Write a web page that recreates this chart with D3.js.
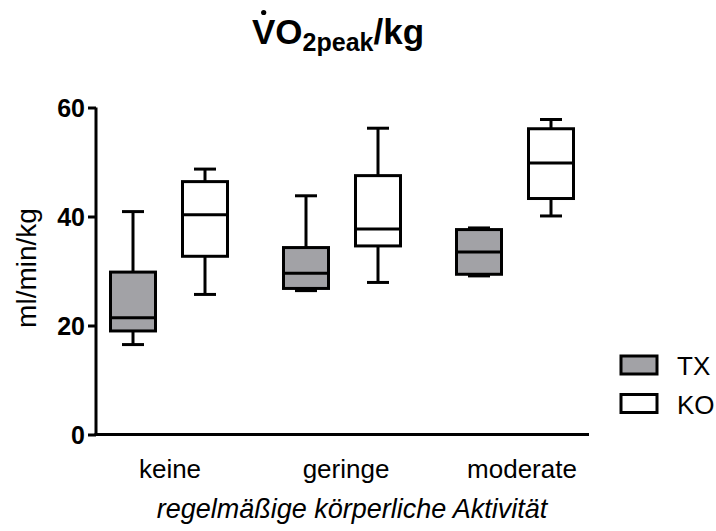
<!DOCTYPE html>
<html>
<head>
<meta charset="utf-8">
<script src="https://cdn.jsdelivr.net/npm/d3@7"></script>
<style>
  body { margin: 0; background: #fff; }
  svg text { font-family: "Liberation Sans", Arial, sans-serif; fill: #000; }
</style>
</head>
<body>
<div id="chart"></div>
<script>
// categories and series
var categories = ['keine', 'geringe', 'moderate']
var series = ['TX', 'KO']
var seriesFill = {TX: '#a2a2a6', KO: '#ffffff'}

// five number summaries: [min, q1, median, q3, max]
var txValues = [
    [16.5, 19.0, 21.4, 29.8, 40.9],
    [26.4, 26.8, 29.6, 34.3, 43.8],
    [29.1, 29.4, 33.5, 37.6, 37.9]
]
var koValues = [
    [25.7, 32.7, 40.3, 46.4, 48.7],
    [27.9, 34.6, 37.7, 47.5, 56.2],
    [40.1, 43.3, 49.8, 56.1, 57.8]
]
var yTicks = [0, 20, 40, 60]

var svgWidth = 716, svgHeight = 531
var boxWidth = 45, capWidth = 22, lineW = 3

var svg = d3.select('#chart').append('svg')
    .attr('width', svgWidth)
    .attr('height', svgHeight)

var y = d3.scaleLinear().domain([0, 60]).range([434.5, 107.5])
var xGroup = d3.scalePoint().domain(categories).range([169, 515])
var xInner = d3.scalePoint().domain(series).range([-36, 36])
var xLabel = d3.scalePoint().domain(categories).range([170, 522])

var rows = []
categories.forEach(function(c, i) {
    rows.push({cat: c, s: 'TX', v: txValues[i]})
    rows.push({cat: c, s: 'KO', v: koValues[i]})
})
function cx(d) { return xGroup(d.cat) + xInner(d.s) }

// y axis
var yAxis = svg.append('g')
    .attr('transform', 'translate(96,0)')
    .call(d3.axisLeft(y).tickValues(yTicks).tickSize(8).tickPadding(3))
yAxis.select('.domain').attr('stroke-width', lineW).attr('d', 'M0,' + y(60) + 'V' + y(0))
yAxis.selectAll('.tick line').attr('stroke-width', lineW)
yAxis.selectAll('.tick text')
    .attr('font-size', 25)
    .attr('font-weight', 'bold')
    .attr('font-family', '"Liberation Sans", Arial, sans-serif')
    .attr('dy', '0.36em')

// x axis line, no ticks
svg.append('line')
    .attr('x1', 96 - lineW / 2).attr('x2', 589)
    .attr('y1', y(0)).attr('y2', y(0))
    .attr('stroke', '#000').attr('stroke-width', lineW)

svg.selectAll('.xlab')
    .data(categories)
    .enter()
    .append('text')
    .attr('class', 'xlab')
    .attr('x', function(d) { return xLabel(d) })
    .attr('y', 478)
    .attr('text-anchor', 'middle')
    .attr('font-size', 26)
    .text(function(d) { return d })

svg.append('text')
    .attr('x', 352).attr('y', 518)
    .attr('text-anchor', 'middle')
    .attr('font-size', 27)
    .attr('font-style', 'italic')
    .text('regelmäßige körperliche Aktivität')

svg.append('text')
    .attr('transform', 'translate(36,268) rotate(-90)')
    .attr('text-anchor', 'middle')
    .attr('font-size', 28)
    .text('ml/min/kg')

// boxes
var boxes = svg.selectAll('.box')
    .data(rows)
    .enter()
    .append('g')
    .attr('class', 'box')

boxes.append('line')
    .attr('x1', cx).attr('x2', cx)
    .attr('y1', function(d) { return y(d.v[4]) })
    .attr('y2', function(d) { return y(d.v[0]) })
    .attr('stroke', '#000').attr('stroke-width', lineW)

boxes.selectAll('.cap')
    .data(function(d) { return [{c: cx(d), v: d.v[0]}, {c: cx(d), v: d.v[4]}] })
    .enter()
    .append('line')
    .attr('class', 'cap')
    .attr('x1', function(d) { return d.c - capWidth / 2 })
    .attr('x2', function(d) { return d.c + capWidth / 2 })
    .attr('y1', function(d) { return y(d.v) })
    .attr('y2', function(d) { return y(d.v) })
    .attr('stroke', '#000').attr('stroke-width', lineW)

boxes.append('rect')
    .attr('x', function(d) { return cx(d) - boxWidth / 2 })
    .attr('width', boxWidth)
    .attr('y', function(d) { return y(d.v[3]) })
    .attr('height', function(d) { return y(d.v[1]) - y(d.v[3]) })
    .attr('fill', function(d) { return seriesFill[d.s] })
    .attr('stroke', '#000').attr('stroke-width', lineW)

boxes.append('line')
    .attr('x1', function(d) { return cx(d) - boxWidth / 2 })
    .attr('x2', function(d) { return cx(d) + boxWidth / 2 })
    .attr('y1', function(d) { return y(d.v[2]) })
    .attr('y2', function(d) { return y(d.v[2]) })
    .attr('stroke', '#000').attr('stroke-width', lineW)

// legend
var legend = svg.selectAll('.leg')
    .data(series)
    .enter()
    .append('g')
    .attr('class', 'leg')
    .attr('transform', function(d, i) { return 'translate(621,' + (356 + i * 38.5) + ')' })
legend.append('rect')
    .attr('width', 36).attr('height', 18)
    .attr('fill', function(d) { return seriesFill[d] })
    .attr('stroke', '#000').attr('stroke-width', lineW)
legend.append('text')
    .attr('x', 56).attr('y', 19)
    .attr('font-size', 26)
    .text(function(d) { return d })

// title
var title = svg.append('text')
    .attr('x', 252).attr('y', 44)
    .attr('font-size', 35)
    .attr('font-weight', 'bold')
title.append('tspan').text('VO')
title.append('tspan').attr('font-size', 25).attr('dy', 7).text('2peak')
title.append('tspan').attr('dy', -7).text('/kg')

var vBox = title.node().getExtentOfChar(0)
svg.append('circle')
    .attr('cx', vBox.x + vBox.width / 2)
    .attr('cy', 12.5)
    .attr('r', 2.6)
    .attr('fill', '#000')
</script>
</body>
</html>
